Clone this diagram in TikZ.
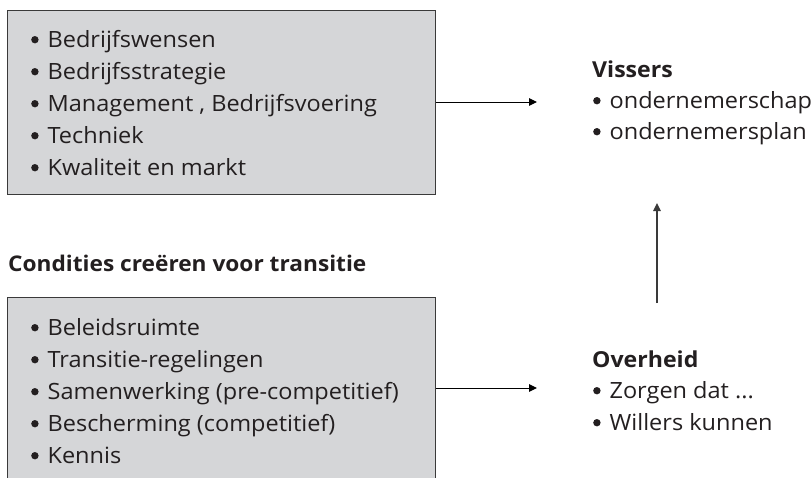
\documentclass[tikz,border=0pt]{standalone}
\usepackage{fontspec}
\setmainfont[FakeStretch=1.05]{Open Sans}
\usetikzlibrary{arrows.meta}
\definecolor{boxfill}{HTML}{D5D6D8}
\definecolor{boxline}{HTML}{3A3A3A}
\definecolor{ink}{HTML}{231F20}
\tikzset{
  panel/.style={draw=boxline, line width=1.4pt, fill=boxfill, rectangle, inner sep=0pt, anchor=north west},
  item/.style={anchor=base west, inner sep=0pt, text=ink, font=\fontsize{22.4}{22.4}\selectfont},
  head/.style={anchor=base west, inner sep=0pt, text=ink, font=\fontsize{22}{22}\selectfont\bfseries},
  bighead/.style={anchor=base west, inner sep=0pt, text=ink, font=\fontsize{21.6}{21.6}\selectfont\bfseries},
  arr/.style={draw=black, line width=1pt, -{Triangle[length=8pt, width=7.5pt]}}
}
% round list bullet followed by the gap before the text
\newcommand{\bul}{\hspace{1pt}\tikz[baseline=0pt]\fill[ink] (0pt,7.3pt) circle (3.7pt);\hspace{9pt}}
\begin{document}
\begin{tikzpicture}[x=1pt, y=-1pt]
\useasboundingbox (0,0) rectangle (811,477);
\clip (0,0) rectangle (811,477);

% grey panels
\node[panel, minimum width=428pt, minimum height=184pt] (top) at (7,10) {};
\node[panel, minimum width=428pt, minimum height=200pt] (bot) at (7,297) {};

% items of the upper panel
\foreach \t [count=\i] in {Bedrijfswensen, Bedrijfsstrategie, {Management , Bedrijfsvoering}, Techniek, {Kwaliteit en markt}}
  \node[item] (t\i) at (30, 15+32*\i) {\bul\t};

% heading and items of the lower panel
\node[bighead] (cond) at (8,271) {Condities creëren voor transitie};
\foreach \t [count=\i] in {Beleidsruimte, Transitie-regelingen, {Samenwerking (pre-competitief)}, {Bescherming (competitief)}, Kennis}
  \node[item] (b\i) at (30, 303+32*\i) {\bul\t};

% Vissers
\node[head] (vis) at (592,77) {Vissers};
\node[item] (vis1) at (592,108) {\bul ondernemerschap};
\node[item] (vis2) at (592,139) {\bul ondernemersplan};

% Overheid
\node[head] (ov) at (592,367) {Overheid};
\node[item] (ov1) at (592,398) {\bul Zorgen dat ...};
\node[item] (ov2) at (592,430) {\bul Willers kunnen};

% connectors
\coordinate (visin) at (537,102);
\coordinate (ovin) at (537,388);
\coordinate (upfrom) at (657,303);
\coordinate (upto) at (657,203);
\draw[arr] (top.east |- visin) -- (visin);
\draw[arr] (bot.east |- ovin) -- (ovin);
\draw[arr, draw=boxline, line width=1.4pt] (upfrom) -- (upto);
\end{tikzpicture}
\end{document}
